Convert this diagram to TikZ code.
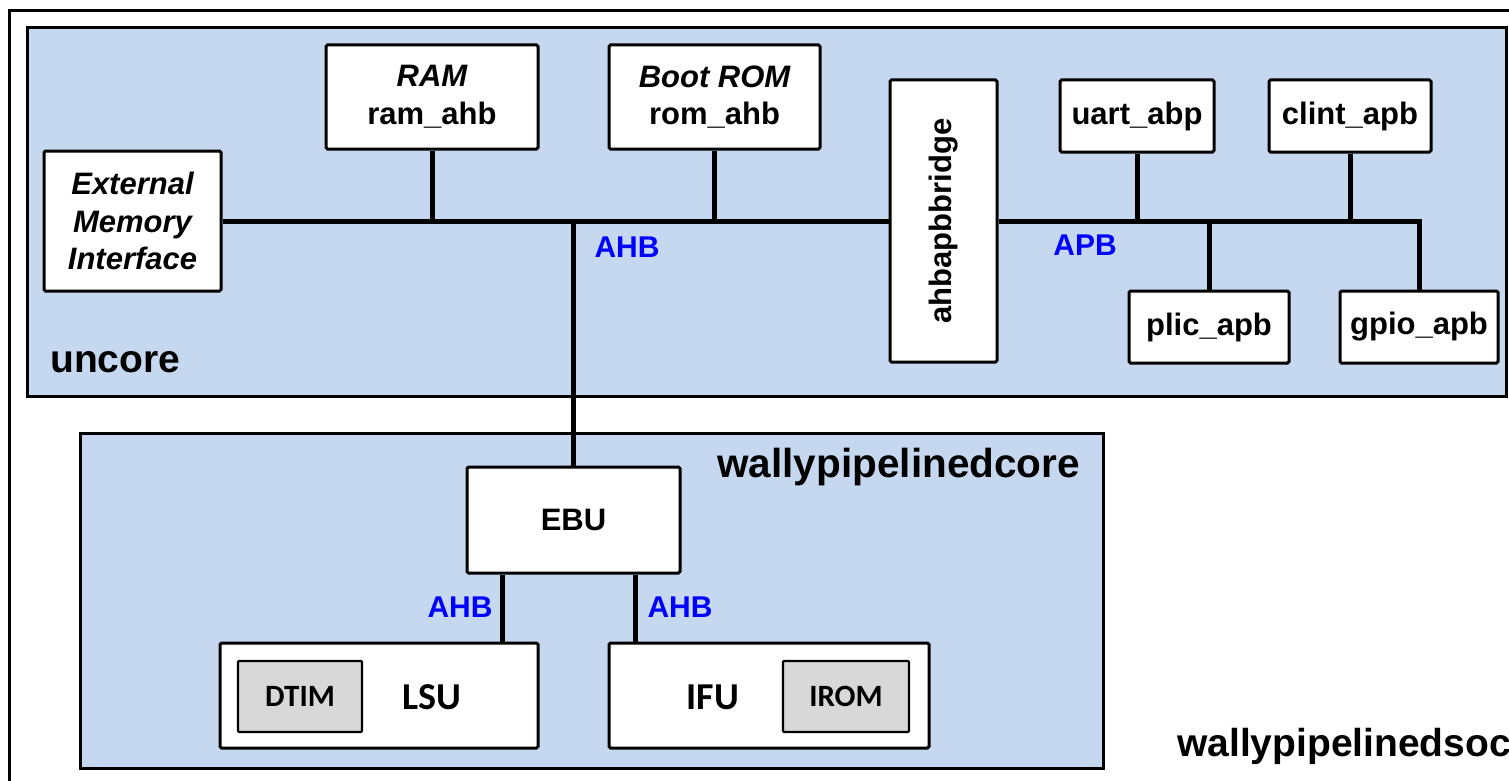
\documentclass[tikz,border=0pt]{standalone}
\usepackage{fontspec}
\setmainfont{Liberation Sans}
\newfontfamily\calib{Carlito}
\definecolor{regionblue}{RGB}{197,216,239}
\definecolor{memgray}{RGB}{216,216,216}
\definecolor{busblue}{RGB}{0,0,255}
\newcommand{\fs}[1]{\fontsize{#1}{1.22\dimexpr#1pt\relax}\selectfont}
\begin{document}
\begin{tikzpicture}[x=1pt,y=-1pt,
  region/.style={draw, line width=3pt, fill=regionblue},
  blk/.style={draw, line width=3pt, fill=white, rounded corners=1.5pt,
    inner sep=0pt, align=center, font=\fs{31}\bfseries},
  mem/.style={draw, line width=2.2pt, fill=memgray, rounded corners=1pt,
    inner sep=0pt, font=\calib\fs{31}\bfseries},
  unit/.style={font=\calib\fs{38}\bfseries, inner sep=0pt},
  bus/.style={line width=5pt},
  buslabel/.style={text=busblue, font=\fs{30}\bfseries, inner sep=0pt},
  title/.style={font=\fs{39}\bfseries, inner sep=0pt}]
\useasboundingbox (0,0) rectangle (1509,781);
\clip (0,0) rectangle (1509,781);

% top-level SoC frame
\draw[line width=3pt] (9.5,10.5) rectangle (1540,820);
\node[title, anchor=west] (soclbl) at (1177,746) {wallypipelinedsoc};

% uncore region
\draw[region] (27,28) rectangle (1506,396);
\node[title, font=\fs{39}\bfseries, anchor=west] (uncorelbl) at (50,362) {uncore};

% uncore blocks
\node[blk, minimum width=177pt, minimum height=140pt] (emi) at (132.5,221)
  {\itshape External\\\itshape Memory\\\itshape Interface};
\node[blk, minimum width=212pt, minimum height=104pt] (ram) at (432,97)
  {\itshape RAM\\ram\_ahb};
\node[blk, minimum width=211pt, minimum height=104pt] (rom) at (714.5,97)
  {\itshape Boot ROM\\rom\_ahb};
\node[blk, minimum width=107pt, minimum height=282pt] (bridge) at (943.5,221)
  {\rotatebox{90}{ahbapbbridge}};
\node[blk, minimum width=154pt, minimum height=72pt] (uart) at (1137,116) {uart\_abp};
\node[blk, minimum width=162pt, minimum height=72pt] (clint) at (1350,116) {clint\_apb};
\node[blk, minimum width=160pt, minimum height=72pt] (plic) at (1209,327) {plic\_apb};
\node[blk, minimum width=158pt, minimum height=72pt] (gpio) at (1419,327) {gpio\_apb};

% AHB bus
\draw[bus] (emi.east) -- (bridge.west);
\draw[bus] (ram.south) -- (ram.south |- emi.east);
\draw[bus] (rom.south) -- (rom.south |- emi.east);
\node[buslabel] (ahbtop) at (627,247) {AHB};

% APB bus
\draw[bus] (bridge.east) -- (bridge.east -| gpio.north) -- (gpio.north);
\draw[bus] (uart.south) -- (uart.south |- bridge.east);
\draw[bus] (clint.south) -- (clint.south |- bridge.east);
\draw[bus] (plic.north) -- (plic.north |- bridge.east);
\node[buslabel] (apb) at (1085,245) {APB};

% core region
\draw[region] (80,433) rectangle (1103,768);
\node[title, font=\fs{40.5}\bfseries, anchor=east] (corelbl) at (1080,467) {wallypipelinedcore};

\node[blk, minimum width=213pt, minimum height=106pt] (ebu) at (573.5,520) {EBU};
\node[blk, minimum width=318pt, minimum height=105pt] (lsu) at (379,695.5) {};
\node[blk, minimum width=320pt, minimum height=105pt] (ifu) at (769,695.5) {};
\node[mem, minimum width=124pt, minimum height=71pt] (dtim) at (300,696.5) {DTIM};
\node[mem, minimum width=126pt, minimum height=71pt] (irom) at (846,696.5) {IROM};
\node[unit] (lsulbl) at (432,697) {LSU};
\node[unit] (ifulbl) at (713,697) {IFU};

% EBU connections
\draw[bus] (ebu.north) -- (ebu.north |- emi.east);
\draw[bus] ([xshift=-71pt]ebu.south) -- ([xshift=-71pt]ebu.south |- lsu.north);
\draw[bus] ([xshift=62pt]ebu.south) -- ([xshift=62pt]ebu.south |- ifu.north);
\node[buslabel] (ahblsu) at (460,607) {AHB};
\node[buslabel] (ahbifu) at (680,607) {AHB};
\end{tikzpicture}
\end{document}
